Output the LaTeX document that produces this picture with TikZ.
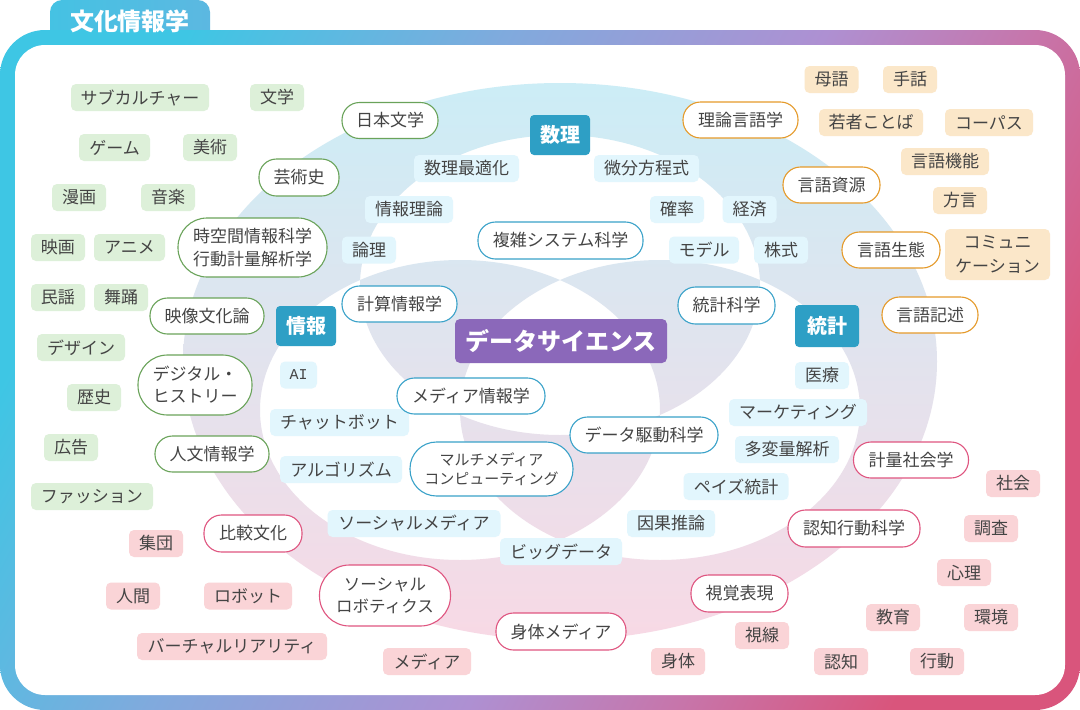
\documentclass[tikz,border=0pt]{standalone}
\usepackage{fontspec}
\setmainfont{Noto Sans CJK JP}
\newfontfamily\aimono{Liberation Mono}
\definecolor{txt}{HTML}{444444}
\definecolor{gfill}{HTML}{DDF0D9}
\definecolor{gline}{HTML}{6AA35A}
\definecolor{ofill}{HTML}{FBE7C9}
\definecolor{oline}{HTML}{E59A2A}
\definecolor{pfill}{HTML}{FAD4D7}
\definecolor{pline}{HTML}{DF5580}
\definecolor{bfill}{HTML}{E2F6FD}
\definecolor{bline}{HTML}{3AA2C9}
\definecolor{hdr}{HTML}{2E9FC5}
\definecolor{dsc}{HTML}{8B68BA}
\definecolor{ringtop}{HTML}{CCEDF6}
\definecolor{ringmid}{HTML}{DFE6F0}
\definecolor{ringbot}{HTML}{F8D9E5}
\definecolor{fcA}{HTML}{3EC6E4}
\definecolor{fcB}{HTML}{80AADD}
\definecolor{fcC}{HTML}{AE90D2}
\definecolor{fcD}{HTML}{C775AA}
\definecolor{fcE}{HTML}{D9557C}
\definecolor{tabL}{HTML}{45C2E3}
\definecolor{tabR}{HTML}{5CB8E1}
\pgfdeclareverticalshading{framegrad}{100bp}{color(0bp)=(fcE); color(25bp)=(fcE); color(35bp)=(fcD); color(45bp)=(fcC); color(60bp)=(fcB); color(75bp)=(fcA); color(100bp)=(fcA)}
\tikzset{
  tagbase/.style={rectangle, rounded corners=5pt, inner sep=0pt, minimum height=27pt, text=txt, align=center, font=\fontsize{17}{23}\selectfont},
  gtag/.style={tagbase, fill=gfill},
  otag/.style={tagbase, fill=ofill},
  ptag/.style={tagbase, fill=pfill},
  btag/.style={tagbase, fill=bfill},
  pillbase/.style={rectangle, rounded corners=17.5pt, draw, line width=1.1pt, fill=white, inner sep=0pt, minimum height=36pt, text=txt, align=center, font=\fontsize{17}{23}\selectfont},
  gpill/.style={pillbase, draw=gline},
  opill/.style={pillbase, draw=oline},
  ppill/.style={pillbase, draw=pline},
  bpill/.style={pillbase, draw=bline},
  hdrbox/.style={rectangle, rounded corners=4pt, fill=hdr, text=white, inner sep=0pt, minimum width=60pt, minimum height=40pt, font=\bfseries\fontsize{20}{24}\selectfont},
  dsbox/.style={rectangle, rounded corners=5pt, fill=dsc, text=white, inner sep=0pt, minimum width=212pt, minimum height=44pt, font=\bfseries\fontsize{24}{28}\selectfont},
  mw/.style={minimum width=#1pt},
  mh/.style={minimum height=#1pt},
  rc/.style={rounded corners=#1pt}
}
\begin{document}
\begin{tikzpicture}[x=1pt, y=-1pt]
\useasboundingbox (0,0) rectangle (1080,710);
% tab
\shade[left color=tabL, right color=tabR, rounded corners=12pt] (50,0) rectangle (210,50);
% frame
\shade[shading=framegrad, shading angle=62, rounded corners=45pt] (0,30) rectangle (1080,710);
\fill[white, rounded corners=30pt] (15,45) rectangle (1065,695);
\node[text=white, font=\bfseries\fontsize{24}{28}\selectfont, inner sep=0pt] (tab) at (130,21) {文化情報学};
% rings
\shade[top color=ringtop, middle color=ringmid, bottom color=ringbot, even odd rule]
  (560,361.5) ellipse [x radius=377pt, y radius=278.5pt]
  (560,285) ellipse [x radius=200pt, y radius=150pt]
  (460,410) ellipse [x radius=200pt, y radius=150pt]
  (660,410) ellipse [x radius=200pt, y radius=150pt];
% green tags
\node[gtag, mw=138] (g1) at (140,97.5) {サブカルチャー};
\node[gtag, mw=54] (g2) at (277,97.5) {文学};
\node[gtag, mw=71] (g3) at (114.5,147.5) {ゲーム};
\node[gtag, mw=54] (g4) at (210,147.5) {美術};
\node[gtag, mw=54] (g5) at (79,197.5) {漫画};
\node[gtag, mw=54] (g6) at (168,197.5) {音楽};
\node[gtag, mw=54] (g7) at (58,247.5) {映画};
\node[gtag, mw=71] (g8) at (129.5,247.5) {アニメ};
\node[gtag, mw=54] (g9) at (58,297.5) {民謡};
\node[gtag, mw=54] (g10) at (121,297.5) {舞踊};
\node[gtag, mw=88] (g11) at (81,347.5) {デザイン};
\node[gtag, mw=54] (g12) at (94,397.5) {歴史};
\node[gtag, mw=54] (g13) at (71,447.5) {広告};
\node[gtag, mw=122] (g14) at (92,496.5) {ファッション};
% green pills
\node[gpill, mw=96] (gp1) at (390,120.5) {日本文学};
\node[gpill, mw=80, mh=37] (gp2) at (299,177.5) {芸術史};
\node[gpill, mw=149, mh=59, rc=29] (gp3) at (252.5,247.5) {時空間情報科学\\行動計量解析学};
\node[gpill, mw=114] (gp4) at (207,316) {映像文化論};
\node[gpill, mw=114, mh=60, rc=29.5, font=\fontsize{17}{22}\selectfont] (gp5) at (195,385) {デジタル・\\ヒストリー};
\node[gpill, mw=114] (gp6) at (212,454) {人文情報学};
% orange tags
\node[otag, mw=54] (o1) at (831.5,79.5) {母語};
\node[otag, mw=54] (o2) at (910,79.5) {手話};
\node[otag, mw=104] (o3) at (871,122.5) {若者ことば};
\node[otag, mw=88] (o4) at (989,122.5) {コーパス};
\node[otag, mw=88] (o5) at (945,161.5) {言語機能};
\node[otag, mw=54] (o6) at (960,200.5) {方言};
\node[otag, mw=105, mh=51, font=\fontsize{17}{24}\selectfont] (o7) at (997.5,254.5) {コミュニ\\ケーション};
% orange pills
\node[opill, mw=115] (op1) at (740.5,120) {理論言語学};
\node[opill, mw=97] (op2) at (831.5,185) {言語資源};
\node[opill, mw=98] (op3) at (891,250) {言語生態};
\node[opill, mw=96] (op4) at (930,315) {言語記述};
% blue tags
\node[btag, mw=105] (b1) at (466.5,168.5) {数理最適化};
\node[btag, mw=105] (b2) at (646.5,168.5) {微分方程式};
\node[btag, mw=88] (b3) at (409,209.5) {情報理論};
\node[btag, mw=54] (b4) at (677,209.5) {確率};
\node[btag, mw=54] (b5) at (749.5,209.5) {経済};
\node[btag, mw=54] (b6) at (369,250) {論理};
\node[btag, mw=70] (b7) at (704,250) {モデル};
\node[btag, mw=54] (b8) at (781,250) {株式};
\node[btag, mw=37, font=\aimono\fontsize{15}{18}\selectfont] (b9) at (298.5,375) {AI};
\node[btag, mw=139] (b10) at (339.5,422.5) {チャットボット};
\node[btag, mw=122] (b11) at (341,469.5) {アルゴリズム};
\node[btag, mw=54] (b12) at (822,375.5) {医療};
\node[btag, mw=138] (b13) at (798,412.5) {マーケティング};
\node[btag, mw=104] (b14) at (787,449.5) {多変量解析};
\node[btag, mw=105] (b15) at (736,486.5) {ペイズ統計};
\node[btag, mw=88] (b16) at (671,523.5) {因果推論};
\node[btag, mw=173] (b17) at (414,523.5) {ソーシャルメディア};
\node[btag, mw=122] (b18) at (561,551.5) {ビッグデータ};
% blue pills
\node[bpill, mw=165, mh=37] (bp1) at (560.5,240.5) {複雑システム科学};
\node[bpill, mw=115] (bp2) at (399.5,304) {計算情報学};
\node[bpill, mw=97, mh=37] (bp3) at (726.5,305.5) {統計科学};
\node[bpill, mw=148] (bp4) at (471,396) {メディア情報学};
\node[bpill, mw=163, mh=54, rc=26.5, font=\fontsize{15}{19}\selectfont] (bp5) at (491.5,469) {マルチメディア\\コンピューティング};
\node[bpill, mw=148] (bp6) at (644,435) {データ駆動科学};
% pink tags
\node[ptag, mw=54] (p1) at (1013,483.5) {社会};
\node[ptag, mw=54] (p2) at (991,528.5) {調査};
\node[ptag, mw=54] (p3) at (964,572.5) {心理};
\node[ptag, mw=54] (p4) at (893,617.5) {教育};
\node[ptag, mw=54] (p5) at (991,617.5) {環境};
\node[ptag, mw=54] (p6) at (762,635.5) {視線};
\node[ptag, mw=54] (p7) at (678,661.5) {身体};
\node[ptag, mw=54] (p8) at (841,661.5) {認知};
\node[ptag, mw=54] (p9) at (937,661.5) {行動};
\node[ptag, mw=54] (p10) at (156,543.5) {集団};
\node[ptag, mw=54] (p11) at (133,596) {人間};
\node[ptag, mw=88] (p12) at (248,596) {ロボット};
\node[ptag, mw=190] (p13) at (232,646.5) {バーチャルリアリティ};
\node[ptag, mw=88] (p14) at (427,661.5) {メディア};
% pink pills
\node[ppill, mw=115] (pp1) at (911,460) {計量社会学};
\node[ppill, mw=132, mh=37] (pp2) at (854,528.5) {認知行動科学};
\node[ppill, mw=98, mh=37] (pp3) at (253,533.5) {比較文化};
\node[ppill, mw=131, mh=61, rc=30, font=\fontsize{16.5}{22}\selectfont] (pp4) at (385,595.5) {ソーシャル\\ロボティクス};
\node[ppill, mw=97, mh=37] (pp5) at (739.5,593.5) {視覚表現};
\node[ppill, mw=130, mh=37] (pp6) at (561,631.5) {身体メディア};
% headers
\node[hdrbox] (h1) at (560,135) {数理};
\node[hdrbox] (h2) at (306,326) {情報};
\node[hdrbox, minimum width=64pt, minimum height=42pt] (h3) at (827,326) {統計};
\node[dsbox] (ds) at (561,341) {データサイエンス};
\end{tikzpicture}
\end{document}
